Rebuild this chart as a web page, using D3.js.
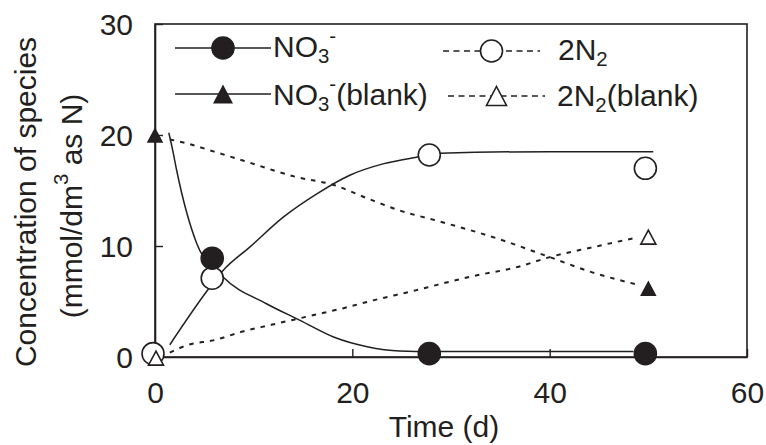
<!DOCTYPE html>
<html>
<head>
<meta charset="utf-8">
<script src="https://cdn.jsdelivr.net/npm/d3@7"></script>
<style>
  body { margin: 0; background: #fff; }
  text { font-family: "Liberation Sans", Arial, Helvetica, sans-serif; fill: #231f20; }
</style>
</head>
<body>
<div id="container"></div>
<script>
// measured points
const no3Days = [5.8, 27.8, 49.7];
const no3Values = [8.9, 0.3, 0.3];
const n2Days = [-0.2, 5.8, 27.8, 49.7];
const n2Values = [0.3, 7.1, 18.2, 17.0];
const no3BlankDays = [0, 50];
const no3BlankValues = [20.0, 6.2];
const n2BlankDays = [0.1, 50];
const n2BlankValues = [-0.1, 10.8];

// fitted curves
const no3FitDays   = [1.4, 1.8, 2.2, 4.2, 6.9, 11.3, 14.7, 18.1, 21.5, 24.8, 28, 38, 48.5];
const no3FitValues = [20.2, 18.6, 16.8, 10.3, 7.2, 4.8, 3.3, 1.8, 0.93, 0.55, 0.5, 0.5, 0.5];
const n2FitDays    = [1.5, 5.4, 6.9, 9.6, 13, 16.4, 19.8, 23.1, 26.5, 28.9, 40, 50.5];
const n2FitValues  = [1.1, 6.1, 7.8, 9.9, 12.6, 14.7, 16.4, 17.4, 18.0, 18.35, 18.5, 18.5];
const no3BlankFitDays   = [1.5, 3, 6, 8.9, 14.4, 18.1, 21.5, 24.8, 28.9, 34.6, 40, 44.4, 49];
const no3BlankFitValues = [19.6, 19.3, 18.5, 17.7, 16.2, 15.5, 14.3, 13.2, 12.2, 10.7, 9.0, 7.6, 6.5];
const n2BlankFitDays    = [1.5, 3.4, 5.9, 8.9, 11.8, 16.2, 19.1, 22.1, 26.4, 28.6, 32.3, 36.7, 40, 44.4, 48.5];
const n2BlankFitValues  = [0.4, 1.1, 1.5, 2.3, 2.9, 3.8, 4.4, 5.1, 6.0, 6.5, 7.3, 8.1, 9.0, 9.9, 10.7];

const xTicks = [0, 20, 40, 60];
const yTicks = [0, 10, 20, 30];

const WIDTH = 766,
      HEIGHT = 445;

const margin = { top: 24, bottom: 88, left: 155, right: 19 };
const width = WIDTH - margin.left - margin.right,
      height = HEIGHT - margin.top - margin.bottom;

const INK = "#231f20";
const FONT = 30;

const svg = d3.select("#container")
    .append("svg")
    .attr("width", WIDTH)
    .attr("height", HEIGHT);

const container = svg.append("g")
    .attr("transform", `translate(${margin.left}, ${margin.top})`);

const xScale = d3.scaleLinear().domain([0, 60]).range([0, width]);
const yScale = d3.scaleLinear().domain([0, 30]).range([height, 0]);

// frame (top and right)
container.append("rect")
    .attr("x", 0).attr("y", 0)
    .attr("width", width).attr("height", height)
    .attr("fill", "none")
    .attr("stroke", INK)
    .attr("stroke-width", 1.6);

const xAxis = d3.axisBottom(xScale).tickValues(xTicks)
    .tickSizeInner(-8).tickSizeOuter(0).tickPadding(25);
const yAxis = d3.axisLeft(yScale).tickValues(yTicks)
    .tickSizeInner(-8).tickSizeOuter(0).tickPadding(22);

const gx = container.append("g")
    .attr("transform", `translate(0, ${height})`)
    .call(xAxis);
const gy = container.append("g").call(yAxis);

[gx, gy].forEach(g => {
    g.select(".domain").attr("stroke", INK).attr("stroke-width", 1.6);
    g.selectAll(".tick line").attr("stroke", INK).attr("stroke-width", 1.4);
    g.selectAll(".tick text")
        .attr("fill", INK)
        .style("font-size", FONT + "px")
        .style("font-family", '"Liberation Sans", Arial, sans-serif');
});
gy.selectAll(".tick text").attr("dy", "0.36em");

// curves
const zip = (xs, ys) => xs.map((d, i) => [d, ys[i]]);
const line = d3.line()
    .x(d => xScale(d[0]))
    .y(d => yScale(d[1]))
    .curve(d3.curveMonotoneX);

const curves = [
    { pts: zip(no3FitDays, no3FitValues), dash: null },
    { pts: zip(n2FitDays, n2FitValues), dash: null },
    { pts: zip(no3BlankFitDays, no3BlankFitValues), dash: "4.5,6" },
    { pts: zip(n2BlankFitDays, n2BlankFitValues), dash: "4.5,6" }
];

container.selectAll(".curve")
    .data(curves)
    .join("path")
    .attr("class", "curve")
    .attr("d", d => line(d.pts))
    .attr("fill", "none")
    .attr("stroke", INK)
    .attr("stroke-width", d => d.dash ? 2 : 1.5)
    .attr("stroke-dasharray", d => d.dash);

// markers
const triPath = (w, h) => `M0,${-h / 2}L${w / 2},${h / 2}L${-w / 2},${h / 2}Z`;

function circles(days, values, filled) {
    container.append("g")
        .selectAll("circle")
        .data(zip(days, values))
        .join("circle")
        .attr("cx", d => xScale(d[0]))
        .attr("cy", d => yScale(d[1]))
        .attr("r", filled ? 11.8 : 11)
        .attr("fill", filled ? INK : "#fff")
        .attr("stroke", INK)
        .attr("stroke-width", filled ? 0 : 1.6);
}
function triangles(days, values, filled) {
    container.append("g")
        .selectAll("path")
        .data(zip(days, values))
        .join("path")
        .attr("transform", d => `translate(${xScale(d[0])}, ${yScale(d[1])})`)
        .attr("d", filled ? triPath(16.5, 15.5) : triPath(15, 14))
        .attr("fill", filled ? INK : "#fff")
        .attr("stroke", INK)
        .attr("stroke-width", filled ? 0 : 1.6);
}

circles(n2Days, n2Values, false);
triangles(n2BlankDays, n2BlankValues, false);
triangles(no3BlankDays, no3BlankValues, true);
circles(no3Days, no3Values, true);

// text with sub/superscripts
function richText(sel, parts, size) {
    let shift = 0;
    parts.forEach(p => {
        const target = p[1] === "sub" ? 6 : p[1] === "sup" ? -14 : 0;
        sel.append("tspan")
            .attr("dy", target - shift)
            .style("font-size", (p[1] ? size * 0.68 : size) + "px")
            .text(p[0]);
        shift = target;
    });
}

// legend
const legendLabels = [
    [["NO"], ["3", "sub"], ["-", "sup"]],
    [["2N"], ["2", "sub"]],
    [["NO"], ["3", "sub"], ["-", "sup"], ["(blank)"]],
    [["2N"], ["2", "sub"], ["(blank)"]]
];
const legendPos = [
    { x0: 175, x1: 271, y: 48, tx: 273, ty: 57, dash: null, mark: "circle", filled: true },
    { x0: 443, x1: 540, y: 51, tx: 558, ty: 60, dash: "6,4.5", mark: "circle", filled: false },
    { x0: 175, x1: 271, y: 94, tx: 273, ty: 105, dash: null, mark: "tri", filled: true },
    { x0: 448, x1: 545, y: 96, tx: 557, ty: 106, dash: "6,4.5", mark: "tri", filled: false }
];

const legend = svg.append("g");
legendPos.forEach((p, i) => {
    legend.append("line")
        .attr("x1", p.x0).attr("x2", p.x1)
        .attr("y1", p.y).attr("y2", p.y)
        .attr("stroke", INK)
        .attr("stroke-width", 1.5)
        .attr("stroke-dasharray", p.dash);
    const cx = (p.x0 + p.x1) / 2;
    if (p.mark === "circle") {
        legend.append("circle")
            .attr("cx", cx).attr("cy", p.y)
            .attr("r", p.filled ? 11.8 : 11)
            .attr("fill", p.filled ? INK : "#fff")
            .attr("stroke", INK)
            .attr("stroke-width", p.filled ? 0 : 1.6);
    } else {
        legend.append("path")
            .attr("transform", `translate(${cx}, ${p.y})`)
            .attr("d", triPath(20, 19))
            .attr("fill", p.filled ? INK : "#fff")
            .attr("stroke", INK)
            .attr("stroke-width", p.filled ? 0 : 1.6);
    }
    const t = legend.append("text")
        .attr("x", p.tx).attr("y", p.ty)
        .style("font-size", FONT + "px");
    richText(t, legendLabels[i], FONT);
});

// axis titles
svg.append("text")
    .attr("text-anchor", "middle")
    .attr("x", 444)
    .attr("y", 437)
    .style("font-size", FONT + "px")
    .text("Time (d)");

svg.append("text")
    .attr("text-anchor", "middle")
    .attr("transform", "translate(36, 202) rotate(-90)")
    .style("font-size", FONT + "px")
    .text("Concentration of species");

const yTitle2 = svg.append("text")
    .attr("text-anchor", "middle")
    .attr("transform", "translate(82, 206) rotate(-90)")
    .style("font-size", FONT + "px");
richText(yTitle2, [["(mmol/dm"], ["3", "sup"], [" as N)"]], FONT);
</script>
</body>
</html>
